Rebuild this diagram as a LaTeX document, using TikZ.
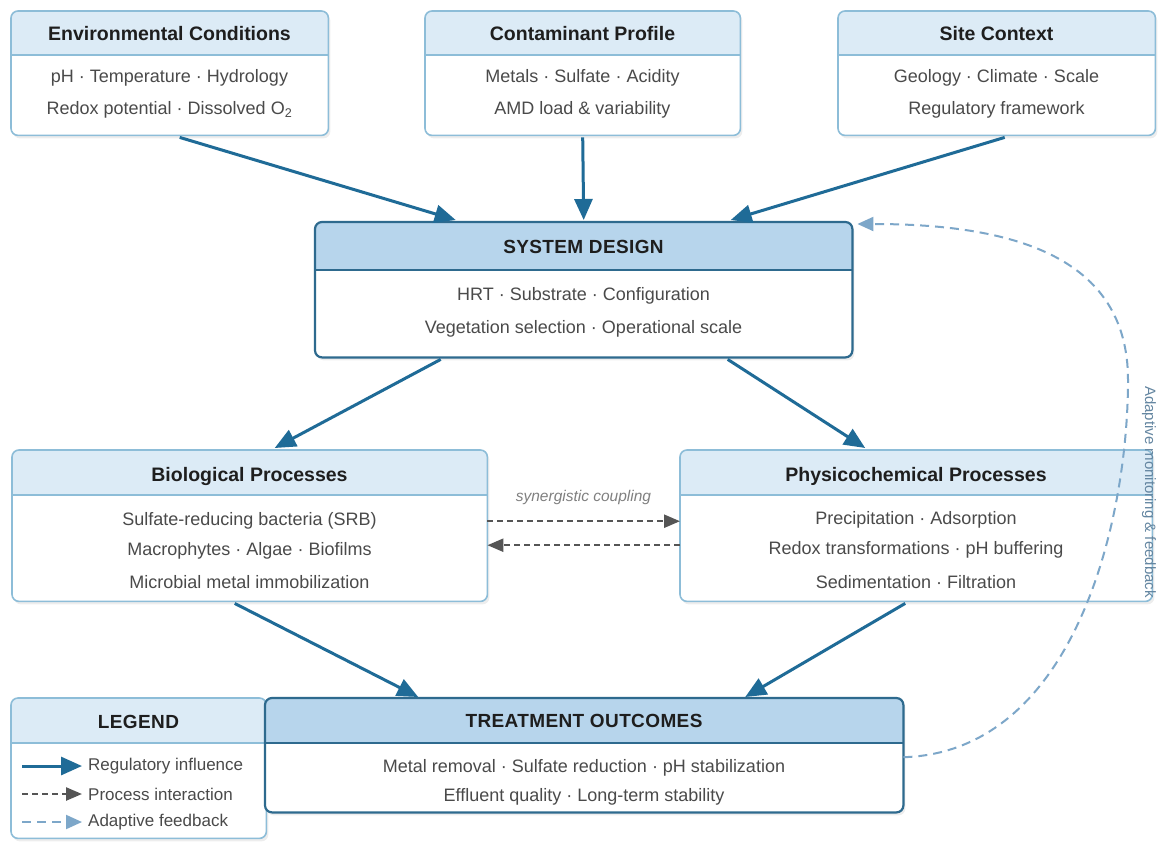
\documentclass[tikz,border=0pt]{standalone}
\usepackage{fontspec}
\setmainfont{Liberation Sans}
\usetikzlibrary{arrows.meta,calc}
\definecolor{hdrlight}{HTML}{DCEBF6}
\definecolor{hdrdark}{HTML}{B7D5EC}
\definecolor{bdlight}{HTML}{8DBDD8}
\definecolor{bddark}{HTML}{2E6A8E}
\definecolor{arrblue}{HTML}{1F6B97}
\definecolor{fbblue}{HTML}{7DA7C9}
\definecolor{bodytext}{HTML}{4A4A4A}
\definecolor{titletext}{HTML}{1E1E1E}
\definecolor{greyarr}{HTML}{555555}
\newcommand\mkpanel[8]{%
  \node[rectangle, inner sep=0pt, minimum width=#4pt, minimum height=#5pt, anchor=north west] (#1) at (#2,#3) {};
  \fill[black, opacity=0.07, rounded corners=7pt] ([shift={(2pt,-3pt)}]#1.north west) rectangle ([shift={(2pt,-3pt)}]#1.south east);
  \begin{scope}
    \clip[rounded corners=7pt] (#1.north west) rectangle (#1.south east);
    \fill[white] (#1.north west) rectangle (#1.south east);
    \fill[#7] (#1.north west) rectangle ([yshift=-#6pt]#1.north east);
    \draw[#8] ([yshift=-#6pt]#1.north west) -- ([yshift=-#6pt]#1.north east);
  \end{scope}
  \draw[#8, rounded corners=7pt] (#1.north west) rectangle (#1.south east);
}
\tikzset{
  lightbd/.style={draw=bdlight, line width=1.6pt},
  darkbd/.style={draw=bddark, line width=2.2pt},
  ttl/.style={font=\fontsize{19.5}{23}\selectfont\bfseries, text=titletext, inner sep=0pt},
  capttl/.style={font=\fontsize{19}{23}\selectfont\bfseries\addfontfeature{LetterSpace=2}, text=titletext, inner sep=0pt},
  bodyt/.style={font=\fontsize{18}{21}\selectfont, text=bodytext, inner sep=0pt},
  legt/.style={font=\fontsize{17}{20}\selectfont, text=bodytext, inner sep=0pt, anchor=west},
  regarrow/.style={draw=arrblue, line width=3pt, -{Triangle[length=21pt,width=18pt]}},
  procarrow/.style={draw=greyarr, line width=2.4pt, dash pattern=on 6pt off 4pt, -{Triangle[length=16pt,width=13pt]}},
  fbarrow/.style={draw=fbblue, line width=2pt, dash pattern=on 9pt off 6pt, -{Triangle[length=16pt,width=14pt]}},
}
\begin{document}
\begin{tikzpicture}[x=1pt,y=-1pt]
\useasboundingbox[fill=white] (0,0) rectangle (1158,841);

% top row
\mkpanel{env}{11}{11}{317}{124}{44}{hdrlight}{lightbd}
\node[ttl] (envT) at (169.5,34) {Environmental Conditions};
\node[bodyt] (envA) at (169.5,78) {pH · Temperature · Hydrology};
\node[bodyt] (envB) at (169.5,110) {Redox potential · Dissolved O\textsubscript{2}};

\mkpanel{con}{425}{11}{315}{124}{44}{hdrlight}{lightbd}
\node[ttl] (conT) at (582.5,34) {Contaminant Profile};
\node[bodyt] (conA) at (582.5,78) {Metals · Sulfate · Acidity};
\node[bodyt] (conB) at (582.5,110) {AMD load \& variability};

\mkpanel{site}{838}{11}{317}{124}{44}{hdrlight}{lightbd}
\node[ttl] (siteT) at (996.5,34) {Site Context};
\node[bodyt] (siteA) at (996.5,78) {Geology · Climate · Scale};
\node[bodyt] (siteB) at (996.5,110) {Regulatory framework};

% system design
\mkpanel{sys}{315}{222}{537}{135}{48}{hdrdark}{darkbd}
\node[capttl] (sysT) at (583.5,247) {SYSTEM DESIGN};
\node[bodyt] (sysA) at (583.5,296) {HRT · Substrate · Configuration};
\node[bodyt] (sysB) at (583.5,329) {Vegetation selection · Operational scale};

% processes
\mkpanel{bio}{12}{450}{475}{151}{45}{hdrlight}{lightbd}
\node[ttl] (bioT) at (249.5,476) {Biological Processes};
\node[bodyt] (bioA) at (249.5,521) {Sulfate-reducing bacteria (SRB)};
\node[bodyt] (bioB) at (249.5,551) {Macrophytes · Algae · Biofilms};
\node[bodyt] (bioC) at (249.5,582) {Microbial metal immobilization};

\mkpanel{phy}{680}{450}{472}{151}{45}{hdrlight}{lightbd}
\node[ttl] (phyT) at (916,476) {Physicochemical Processes};
\node[bodyt] (phyA) at (916,520) {Precipitation · Adsorption};
\node[bodyt] (phyB) at (916,550) {Redox transformations · pH buffering};
\node[bodyt] (phyC) at (916,582) {Sedimentation · Filtration};

% legend
\mkpanel{leg}{11}{698}{255}{140}{45}{hdrlight}{lightbd}
\node[capttl] (legT) at (138.5,722) {LEGEND};
\coordinate (l1a) at (22,766); \coordinate (l1b) at (82,766);
\coordinate (l2a) at (22,794); \coordinate (l2b) at (82,794);
\coordinate (l3a) at (22,822); \coordinate (l3b) at (82,822);
\draw[regarrow] (l1a) -- (l1b);
\draw[procarrow] (l2a) -- (l2b);
\draw[fbarrow] (l3a) -- (l3b);
\node[legt] (leg1) at (88,766) {Regulatory influence};
\node[legt] (leg2) at (88,794) {Process interaction};
\node[legt] (leg3) at (88,822) {Adaptive feedback};

% treatment outcomes
\mkpanel{out}{265}{698}{638}{114}{45}{hdrdark}{darkbd}
\node[capttl] (outT) at (584,721) {TREATMENT OUTCOMES};
\node[bodyt] (outA) at (584,768) {Metal removal · Sulfate reduction · pH stabilization};
\node[bodyt] (outB) at (584,797) {Effluent quality · Long-term stability};

% regulatory arrows
\draw[regarrow] ([xshift=10pt,yshift=-2pt]env.south) -- ([xshift=-128pt,yshift=2pt]sys.north);
\draw[regarrow] ([yshift=-2pt]con.south) -- ([yshift=2pt]sys.north);
\draw[regarrow] ([xshift=8pt,yshift=-2pt]site.south) -- ([xshift=147pt,yshift=2pt]sys.north);
\draw[regarrow] ([xshift=-143pt,yshift=-2pt]sys.south) -- ([xshift=25pt,yshift=2pt]bio.north);
\draw[regarrow] ([xshift=144pt,yshift=-2pt]sys.south) -- ([xshift=-51pt,yshift=2pt]phy.north);
\draw[regarrow] ([xshift=-15pt,yshift=-2pt]bio.south) -- ([xshift=-166pt,yshift=1pt]out.north);
\draw[regarrow] ([xshift=-11pt,yshift=-2pt]phy.south) -- ([xshift=161pt,yshift=1pt]out.north);

% process interaction
\draw[procarrow] ([yshift=4.5pt]bio.east) -- ([yshift=4.5pt]phy.west);
\draw[procarrow] ([yshift=-19.5pt]phy.west) -- ([yshift=-19.5pt]bio.east);
\node[font=\fontsize{15.5}{18}\selectfont\itshape, text=gray, inner sep=0pt] (syn) at (583.5,497) {synergistic coupling};

% adaptive feedback
\draw[fbarrow] ([yshift=-2pt]out.east) .. controls (1075,752) and (1128,520) .. (1128,380)
  .. controls (1128,255) and (1010,224) .. ([shift={(5pt,-2pt)}]sys.north east);
\node[font=\fontsize{15}{18}\selectfont, text=fbblue!80!black, rotate=-90, inner sep=0pt] (fbT) at (1149,492) {Adaptive monitoring \& feedback};
\end{tikzpicture}
\end{document}
